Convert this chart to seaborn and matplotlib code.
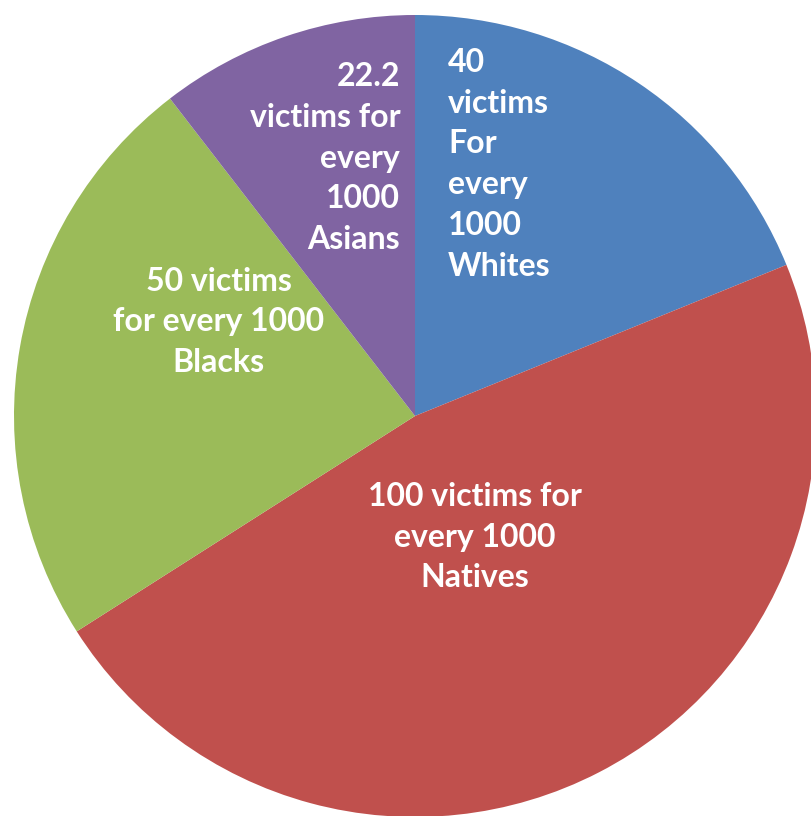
import matplotlib
matplotlib.use('Agg')
import matplotlib.pyplot as plt
import seaborn as sns

# victims per 1000, clockwise from 12 o'clock
groups = ['Whites', 'Natives', 'Blacks', 'Asians']
rates = [40, 100, 50, 22.2]
labels = ['40\nvictims\nFor\nevery\n1000\nWhites',
          '100 victims for\nevery 1000\nNatives',
          '50 victims\nfor every 1000\nBlacks',
          '22.2\nvictims for\nevery\n1000\nAsians']
colors = sns.color_palette(['#4F81BD', '#C0504D', '#9BBB59', '#8064A2'])

sns.set_style('white')
plt.rcParams['font.family'] = ['Lato', 'DejaVu Sans']

fig = plt.figure(figsize=(8.12, 8.16), dpi=100)
ax = fig.add_axes([0, 0, 1, 1])
ax.pie(rates, colors=colors, startangle=90, counterclock=False, radius=1,
       wedgeprops=dict(linewidth=0))

# pie is 401px radius, centre at (415, 416) px
r = 401
ax.set_xlim(-415 / r, (812 - 415) / r)
ax.set_ylim(-(816 - 416) / r, 416 / r)
ax.set_aspect('auto')
ax.axis('off')

txt = dict(color='white', fontsize=23, fontweight='bold', linespacing=1.49)
ax.text(0.082, 0.628, labels[0], ha='left', va='center', multialignment='left', **txt)
ax.text(0.15, -0.302, labels[1], ha='center', va='center', multialignment='center', **txt)
ax.text(-0.49, 0.235, labels[2], ha='center', va='center', multialignment='center', **txt)
ax.text(-0.037, 0.643, labels[3], ha='right', va='center', multialignment='right', **txt)

fig.savefig('out.png', dpi=100)
